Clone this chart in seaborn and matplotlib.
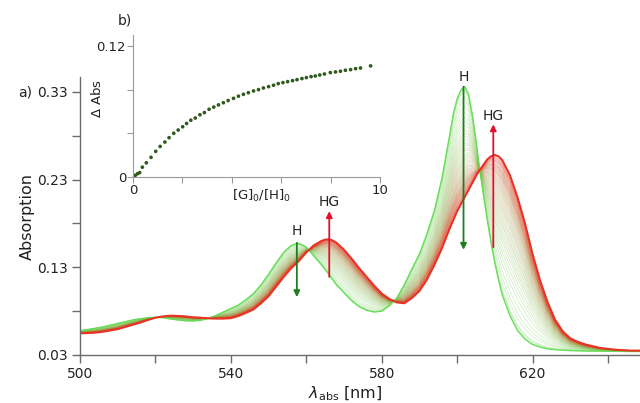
import numpy as np
import pandas as pd
import matplotlib
matplotlib.use("Agg")
import matplotlib.pyplot as plt
import seaborn as sns
from matplotlib.ticker import FixedLocator

# =============================
# Data
# =============================
wavelength = [500, 502, 504, 506, 508, 510, 512, 514, 516, 518,
              520, 522, 524, 526, 528, 530, 532, 534, 536, 538,
              540, 542, 544, 546, 548, 550, 552, 554, 556, 557,
              558, 559, 560, 562, 564, 565, 566, 567, 568, 570,
              572, 574, 576, 578, 580, 582, 584, 586, 588, 590,
              592, 594, 596, 598, 599, 600, 601, 602, 603, 604,
              605, 606, 608, 609, 610, 611, 612, 614, 616, 618,
              620, 622, 624, 626, 628, 630, 632, 634, 636, 638,
              640, 642, 644, 646, 648, 650]

# free host spectrum (first, green)
abs_host = [0.0577, 0.059, 0.0605, 0.062, 0.064, 0.066, 0.068, 0.070, 0.0714, 0.0725,
            0.073, 0.0725, 0.071, 0.070, 0.069, 0.0688, 0.0695, 0.0718, 0.075, 0.079,
            0.083, 0.087, 0.093, 0.100, 0.110, 0.122, 0.135, 0.147, 0.155, 0.1565,
            0.157, 0.1555, 0.153, 0.143, 0.133, 0.1275, 0.122, 0.116, 0.110, 0.101,
            0.092, 0.085, 0.081, 0.079, 0.080, 0.086, 0.095, 0.110, 0.128, 0.145,
            0.168, 0.195, 0.232, 0.280, 0.305, 0.322, 0.332, 0.336, 0.328, 0.305,
            0.275, 0.241, 0.184, 0.158, 0.135, 0.115, 0.098, 0.075, 0.058, 0.048,
            0.042, 0.039, 0.037, 0.036, 0.0355, 0.035, 0.0348, 0.0346, 0.0345, 0.0344,
            0.0343, 0.0342, 0.0341, 0.034, 0.034, 0.034]

# end of titration, host-guest complex (last, red)
abs_complex = [0.0547, 0.055, 0.0555, 0.0565, 0.058, 0.0595, 0.062, 0.0645, 0.067, 0.070,
               0.0725, 0.074, 0.0748, 0.0745, 0.074, 0.073, 0.0725, 0.0718, 0.0715, 0.0715,
               0.072, 0.0745, 0.078, 0.082, 0.089, 0.097, 0.108, 0.119, 0.129, 0.133,
               0.137, 0.142, 0.147, 0.155, 0.160, 0.1615, 0.162, 0.1605, 0.158, 0.150,
               0.140, 0.129, 0.119, 0.109, 0.100, 0.094, 0.090, 0.089, 0.095, 0.103,
               0.116, 0.133, 0.152, 0.174, 0.184, 0.194, 0.202, 0.210, 0.218, 0.226,
               0.234, 0.241, 0.253, 0.2565, 0.258, 0.2565, 0.252, 0.235, 0.210, 0.180,
               0.145, 0.115, 0.090, 0.070, 0.057, 0.049, 0.045, 0.042, 0.040, 0.038,
               0.037, 0.036, 0.0355, 0.035, 0.035, 0.035]

# inset b): binding isotherm
ratio = [0.00, 0.09, 0.18, 0.27, 0.38, 0.54, 0.73, 0.92, 1.10, 1.29, 1.46, 1.65, 1.83,
         2.01, 2.17, 2.34, 2.52, 2.71, 2.89, 3.08, 3.27, 3.46, 3.66, 3.85, 4.07, 4.27,
         4.47, 4.67, 4.88, 5.08, 5.28, 5.49, 5.69, 5.88, 6.07, 6.26, 6.46, 6.64, 6.84,
         7.02, 7.21, 7.38, 7.56, 7.75, 7.99, 8.20, 8.40, 8.60, 8.81, 9.01, 9.21, 9.62]
delta_abs = [0.0, 0.0015, 0.003, 0.004, 0.009, 0.013, 0.018, 0.0235, 0.028, 0.032,
             0.036, 0.040, 0.043, 0.046, 0.049, 0.052, 0.054, 0.057, 0.059, 0.062,
             0.064, 0.066, 0.068, 0.070, 0.072, 0.074, 0.0757, 0.0772, 0.0788, 0.080,
             0.0815, 0.0827, 0.084, 0.0855, 0.0864, 0.0873, 0.0882, 0.0891, 0.0901,
             0.091, 0.0919, 0.0925, 0.0934, 0.0943, 0.0956, 0.0962, 0.0968, 0.0977,
             0.0983, 0.0992, 0.0998, 0.1017]

# =============================
# Titration spectra (H -> HG mixtures, one per inset point)
# =============================
host = np.array(abs_host)
cplx = np.array(abs_complex)
frac = np.array(delta_abs) / delta_abs[-1]

rows = []
for i, f in enumerate(frac):
    spec = host + f * (cplx - host)
    for wl, a in zip(wavelength, spec):
        rows.append({"wl": wl, "A": a, "step": i})
df = pd.DataFrame(rows)

# colour runs with the titration step, green -> red
green = np.array([0.38, 0.87, 0.32])
red = np.array([0.91, 0.20, 0.15])
n = len(frac)
palette = [tuple(green + (i / (n - 1)) * (red - green)) for i in range(n)]

# =============================
# Plot
# =============================
sns.set_style("ticks")
plt.rcParams["font.family"] = ["DejaVu Sans"]
grey = "#6b6b6b"
txt = "#222222"

fig = plt.figure(figsize=(6.4, 4.03), dpi=100)
ax = fig.add_axes([80 / 640, 48 / 403, 560 / 640, 278 / 403])

sns.lineplot(data=df, x="wl", y="A", hue="step", palette=palette, legend=False,
             errorbar=None, linewidth=0.6, alpha=0.3, ax=ax)
ax.plot(wavelength, abs_host, color=tuple(green), lw=1.0, alpha=0.9)
ax.plot(wavelength, abs_complex, color=tuple(red), lw=1.5)

ax.set_xlim(500, 648.5)
ax.set_ylim(0.03, 0.347)
ax.xaxis.set_major_locator(FixedLocator([500, 540, 580, 620]))
ax.xaxis.set_minor_locator(FixedLocator([520, 560, 600, 640]))
ax.yaxis.set_major_locator(FixedLocator([0.03, 0.13, 0.23, 0.33]))
ax.yaxis.set_minor_locator(FixedLocator([0.08, 0.18, 0.28]))
ax.set_yticklabels(["0.03", "0.13", "0.23", "0.33"])
ax.tick_params(which="both", direction="out", length=6, width=1, color=grey,
               labelsize=10, labelcolor=txt, pad=3)
for s in ["top", "right"]:
    ax.spines[s].set_visible(False)
for s in ["left", "bottom"]:
    ax.spines[s].set_color(grey)
    ax.spines[s].set_linewidth(1)
ax.set_xlabel(r"$\lambda_{\rm abs}$ [nm]", fontsize=11.5, color=txt)
ax.set_ylabel("Absorption", fontsize=11.5, color=txt)
ax.xaxis.set_label_coords(0.473, -0.105)
ax.yaxis.set_label_coords(-0.08, 0.5)

# arrows
dgreen = "#1e7d1e"
crim = "#e0102e"
arrows = [
    (557.5, 0.158, 0.096, dgreen, "H", 0.163),
    (566.1, 0.119, 0.194, crim, "HG", 0.196),
    (601.7, 0.336, 0.150, dgreen, "H", 0.339),
    (609.6, 0.153, 0.293, crim, "HG", 0.295),
]
for x, y0, y1, c, lab, ylab in arrows:
    ax.annotate("", xy=(x, y1), xytext=(x, y0),
                arrowprops=dict(arrowstyle="-|>", color=c, lw=1.3, mutation_scale=9,
                                shrinkA=0, shrinkB=0), annotation_clip=False)
    ax.text(x, ylab, lab, ha="center", va="bottom", fontsize=10, color=txt,
            clip_on=False)

# inset
axin = fig.add_axes([133 / 640, 226 / 403, 247 / 640, 142 / 403])
axin.set_facecolor("none")
sns.scatterplot(x=ratio, y=delta_abs, color="#2f5a1c", s=7, edgecolor="none",
                marker="o", ax=axin)
axin.set_xlim(0, 10)
axin.set_ylim(0, 0.130)
axin.xaxis.set_major_locator(FixedLocator([0, 10]))
axin.xaxis.set_minor_locator(FixedLocator([2, 4, 6, 8]))
axin.yaxis.set_major_locator(FixedLocator([0, 0.12]))
axin.yaxis.set_minor_locator(FixedLocator([0.04, 0.08]))
axin.set_xticklabels(["0", "10"])
axin.set_yticklabels(["0", "0.12"])
axin.tick_params(which="both", direction="out", length=4, width=0.8, color="#9a9a9a",
                 labelsize=9.5, labelcolor=txt, pad=1)
for s in ["top", "right"]:
    axin.spines[s].set_visible(False)
for s in ["left", "bottom"]:
    axin.spines[s].set_color("#9a9a9a")
    axin.spines[s].set_linewidth(0.8)
axin.set_xlabel(r"[G]$_0$/[H]$_0$", fontsize=9.5, color=txt)
axin.set_ylabel(r"$\Delta$ Abs", fontsize=9.5, color=txt)
axin.xaxis.set_label_coords(0.52, -0.075)
axin.yaxis.set_label_coords(-0.117, 0.55)

fig.text(18 / 640, 1 - 92 / 403, "a)", fontsize=10, ha="left", va="center", color=txt)
fig.text(118 / 640, 1 - 21 / 403, "b)", fontsize=10, ha="left", va="center", color=txt)

plt.savefig("out.png", dpi=100)
